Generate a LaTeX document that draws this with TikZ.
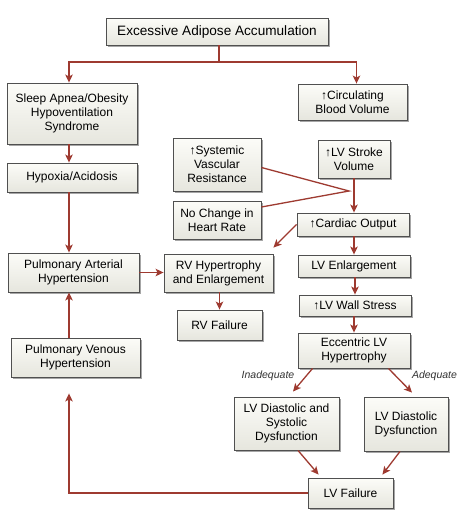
\documentclass[tikz,border=0pt]{standalone}
\usepackage{fontspec}
\setmainfont{Liberation Sans}
\usetikzlibrary{arrows.meta,shadows,calc}
\definecolor{arrred}{RGB}{158,58,48}
\definecolor{boxline}{RGB}{80,80,80}
\definecolor{boxtop}{RGB}{252,252,248}
\definecolor{boxbot}{RGB}{230,230,222}
\tikzset{
  box/.style={draw=boxline, line width=0.9pt, top color=boxtop, bottom color=boxbot,
    align=center, inner sep=0pt, font=\fontsize{12}{14}\selectfont,
    drop shadow={shadow xshift=1.6pt, shadow yshift=-1.6pt, opacity=0.35, fill=black}},
  arr/.style={draw=arrred, line width=1.3pt, -{Stealth[length=8pt,width=7.5pt,inset=2pt]}},
  ln/.style={draw=arrred, line width=1.3pt},
  lbl/.style={font=\fontsize{10.5}{12}\selectfont\itshape, text=black!80, inner sep=0pt}
}
\begin{document}
\begin{tikzpicture}[x=1pt,y=-1pt]
\useasboundingbox[fill=white] (0,0) rectangle (465,523);
\node[box, minimum width=222pt, minimum height=27pt, font=\fontsize{13.6}{16}\selectfont] (top) at (217,31.5) {Excessive Adipose Accumulation};
\node[box, minimum width=130pt, minimum height=61pt] (sleep) at (72,113.5) {Sleep Apnea/Obesity\\Hypoventilation\\Syndrome};
\node[box, minimum width=109pt, minimum height=36pt] (circ) at (352.5,102) {↑Circulating\\Blood Volume};
\node[box, minimum width=130pt, minimum height=29pt] (hyp) at (72,177.5) {Hypoxia/Acidosis};
\node[box, minimum width=88pt, minimum height=53pt] (svr) at (217,164.5) {↑Systemic\\Vascular\\Resistance};
\node[box, minimum width=72pt, minimum height=38pt] (sv) at (354,159) {↑LV Stroke\\Volume};
\node[box, minimum width=88pt, minimum height=38pt] (nchr) at (217,220) {No Change in\\Heart Rate};
\node[box, minimum width=112pt, minimum height=23pt] (co) at (353,224.5) {↑Cardiac Output};
\node[box, minimum width=131pt, minimum height=39pt] (pah) at (73.5,272.5) {Pulmonary Arterial\\Hypertension};
\node[box, minimum width=109pt, minimum height=38pt] (rvh) at (218.5,273) {RV Hypertrophy\\and Enlargement};
\node[box, minimum width=112pt, minimum height=22pt] (lve) at (354,266) {LV Enlargement};
\node[box, minimum width=112pt, minimum height=21pt] (lvws) at (355,305.5) {↑LV Wall Stress};
\node[box, minimum width=85pt, minimum height=30pt] (rvf) at (219.5,325) {RV Failure};
\node[box, minimum width=112pt, minimum height=35pt] (ecc) at (354,350.5) {Eccentric LV\\Hypertrophy};
\node[box, minimum width=129pt, minimum height=39pt] (pvh) at (75.5,357.5) {Pulmonary Venous\\Hypertension};
\node[box, minimum width=105pt, minimum height=53pt] (lvds) at (286.5,423.5) {LV Diastolic and\\Systolic\\Dysfunction};
\node[box, minimum width=84pt, minimum height=54pt] (lvd) at (406,424) {LV Diastolic\\Dysfunction};
\node[box, minimum width=85pt, minimum height=30pt] (lvf) at (350.5,493) {LV Failure};
\node[lbl] (inad) at (268,375.5) {Inadequate};
\node[lbl] (adeq) at (434.5,375.5) {Adequate};
% helper coordinates
\coordinate (vx) at (69,0);
\coordinate (j1) at (219,62);
\coordinate (jn) at (349,191);
% connectors
\draw[ln] (top.south -| j1) -- (j1);
\draw[arr] (j1) -| ($(sleep.north -| vx)$);
\draw[arr] (j1) -| ($(circ.north)+(4,0)$);
\draw[arr] (sleep.south -| vx) -- (hyp.north -| vx);
\draw[arr] (hyp.south -| vx) -- (pah.north -| vx);
\draw[arr] (pvh.north -| vx) -- (pah.south -| vx);
\draw[ln] ($(svr.east)+(0,3)$) -- (jn) -- ($(nchr.east)+(0,-13)$);
\draw[arr] (sv.south) -- (sv.south |- co.north);
\draw[arr] (co.west) -- ($(rvh.north east)+(0,-6)$);
\draw[arr] (co.south -| lve.north) -- (lve.north);
\draw[arr] (lve.south -| lvws.north) -- (lvws.north);
\draw[arr] (lvws.south -| ecc.north) -- (ecc.north);
\draw[arr] (pah.east) -- (pah.east -| rvh.west);
\draw[arr] (rvh.south -| rvf.north) -- (rvf.north);
\draw[arr] ($(ecc.south west)+(15,0)$) -- ($(lvds.north)+(6.5,-5)$);
\draw[arr] ($(ecc.south east)+(-22,0)$) -- ($(lvd.north)+(6,-4)$);
\draw[arr] ($(lvds.south)+(11.5,0)$) -- ($(lvf.north west)+(11,-3)$);
\draw[arr] ($(lvd.south)+(-6,0)$) -- ($(lvf.north east)+(-11,-3)$);
\draw[arr] (lvf.west) -| ($(pvh.south -| vx)+(0,16)$);
\end{tikzpicture}
\end{document}
